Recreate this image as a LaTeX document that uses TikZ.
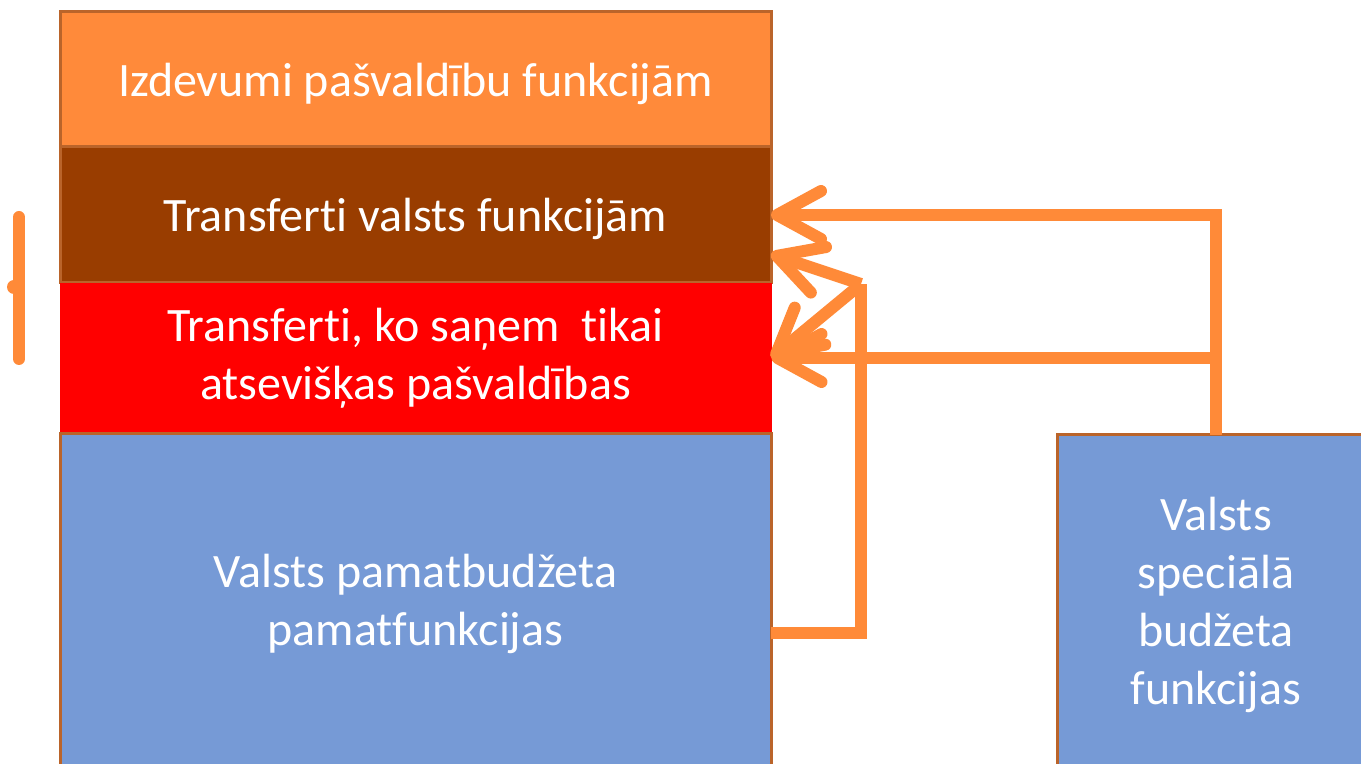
\documentclass[tikz,border=0pt]{standalone}
\usepackage{fontspec}
\setmainfont{Carlito}[Ligatures={NoCommon}]
\usetikzlibrary{arrows.meta}
\definecolor{orTop}{RGB}{255,138,58}
\definecolor{orLine}{RGB}{255,138,56}
\definecolor{brn}{RGB}{153,61,0}
\definecolor{bluebox}{RGB}{118,154,214}
\definecolor{edge}{RGB}{186,100,42}
\tikzset{
  box/.style={rectangle, inner sep=0pt, outer sep=0pt, text=white, align=center,
    font=\fontsize{24}{29}\selectfont},
  oneline/.style={text depth=0pt},
  conn/.style={draw=orLine, line width=6pt},
  arr/.style={conn, -{Straight Barb[length=22pt, width=24pt, round]}}
}
\begin{document}
\begin{tikzpicture}[x=0.5pt, y=-0.5pt]
\useasboundingbox (0,0) rectangle (1361,764);
\clip (0,0) rectangle (1361,764);
% left stack
\node[box, oneline, fill=orTop, draw=edge, line width=1.5pt, minimum width=355.5pt, minimum height=67.5pt] (izd) at (415.5,79.5) {Izdevumi pašvaldību funkcijām};
\node[box, oneline, fill=brn, draw=edge, line width=1.5pt, minimum width=355.5pt, minimum height=68pt] (trv) at (415.5,215) {Transferti valsts funkcijām};
\node[box, fill=red, minimum width=356pt, minimum height=75pt] (red) at (415.5,358) {Transferti, ko saņem~ tikai\\atsevišķas pašvaldības};
\node[box, fill=bluebox, draw=edge, line width=1.5pt, minimum width=355.5pt, minimum height=170pt] (pam) at (415.5,604) {Valsts pamatbudžeta\\pamatfunkcijas};
% right box
\node[box, fill=bluebox, draw=edge, line width=1.5pt, minimum width=159pt, minimum height=170pt] (spec) at (1216,605) {Valsts\\speciālā\\budžeta\\funkcijas};
% connectors from special budget
\draw[arr] (spec.north) |- (trv.east);
\draw[arr] (spec.north |- red.east) -- (red.east);
% connectors from base budget
\coordinate (j) at (861,284);
\draw[conn] ([yshift=-14.5pt]pam.east) -| (j);
\draw[arr] (j) -- ([yshift=-19.5pt]trv.east);
\draw[arr] (j) -- (red.east);
% left bracket
\draw[draw=orLine, line width=6pt, line cap=round] (19,217) -- (19,359);
\fill[orLine] (14,287) circle (3.5pt);
\end{tikzpicture}
\end{document}
